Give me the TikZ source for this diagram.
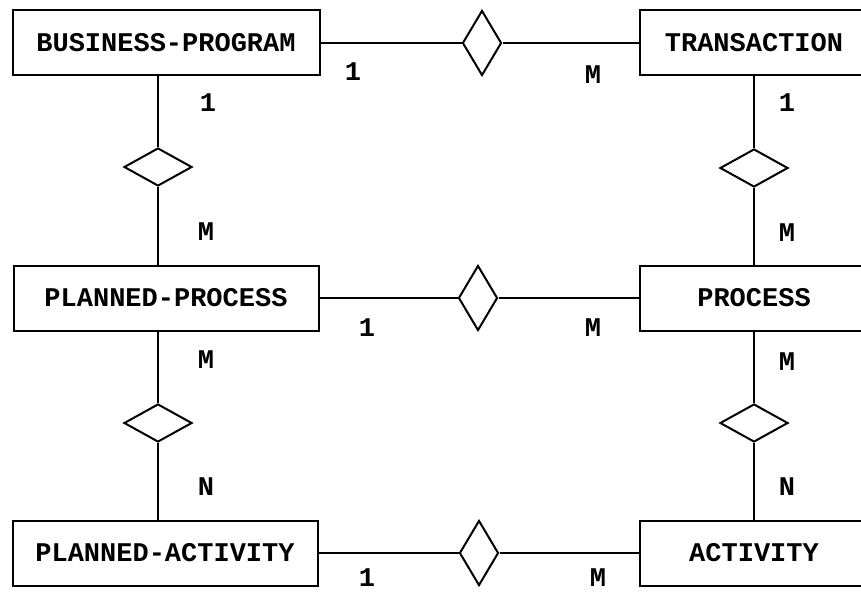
\documentclass[tikz,border=0pt]{standalone}
\usepackage{fontspec}
\usepackage{tikz}
\newfontfamily\erfont{Liberation Mono}
\usetikzlibrary{shapes.geometric}
\tikzset{entity/.style={draw,line width=2pt,minimum height=65pt,inner sep=0pt,
    font=\erfont\bfseries\fontsize{27}{27}\selectfont},
  relh/.style={draw,diamond,line width=2pt,inner sep=0pt,minimum width=39pt,minimum height=65pt},
  relv/.style={draw,diamond,line width=2pt,inner sep=0pt,minimum width=68pt,minimum height=38pt},
  card/.style={font=\erfont\bfseries\fontsize{27}{27}\selectfont,inner sep=0pt}}

\begin{document}
\begin{tikzpicture}[x=1pt,y=-1pt]
  \useasboundingbox (0,0) rectangle (861,591);
  \clip (0,0) rectangle (861,591);
  \pgfsetlinewidth{2pt}

  % entities
  \node [entity,minimum width=307pt] (bp) at (166,43)  {BUSINESS-PROGRAM};
  \node [entity,minimum width=228pt] (tr) at (754,43)  {TRANSACTION};
  \node [entity,minimum width=305pt] (pp) at (166,298) {PLANNED-PROCESS};
  \node [entity,minimum width=228pt] (pr) at (754,298) {PROCESS};
  \node [entity,minimum width=305pt] (pa) at (165,553) {PLANNED-ACTIVITY};
  \node [entity,minimum width=228pt] (ac) at (754,553) {ACTIVITY};

  % relationships
  \node [relh] (h1) at (482,43)  {};
  \node [relh] (h2) at (478,298) {};
  \node [relh] (h3) at (479,553) {};
  \node [relv] (l1) at (158,167) {};
  \node [relv] (l2) at (158,423) {};
  \node [relv] (r1) at (754,168) {};
  \node [relv] (r2) at (754,423) {};

  \draw (bp) -- (h1) -- (tr);
  \draw (pp) -- (h2) -- (pr);
  \draw (pa) -- (h3) -- (ac);
  \draw (bp.south -| l1) -- (l1) -- (l1 |- pp.north);
  \draw (pp.south -| l2) -- (l2) -- (l2 |- pa.north);
  \draw (tr) -- (r1) -- (pr);
  \draw (pr) -- (r2) -- (ac);

  % cardinalities
  \node [card] (c1) at (353,72)  {1};
  \node [card] (c2) at (593,75)  {M};
  \node [card] (c3) at (367,328) {1};
  \node [card] (c4) at (593,328) {M};
  \node [card] (c5) at (367,578) {1};
  \node [card] (c6) at (598,578) {M};
  \node [card] (c7) at (208,103) {1};
  \node [card] (c8) at (206,232) {M};
  \node [card] (c9) at (206,360) {M};
  \node [card] (c10) at (206,487) {N};
  \node [card] (c11) at (787,103) {1};
  \node [card] (c12) at (787,233) {M};
  \node [card] (c13) at (787,362) {M};
  \node [card] (c14) at (787,487) {N};
\end{tikzpicture}
\end{document}
